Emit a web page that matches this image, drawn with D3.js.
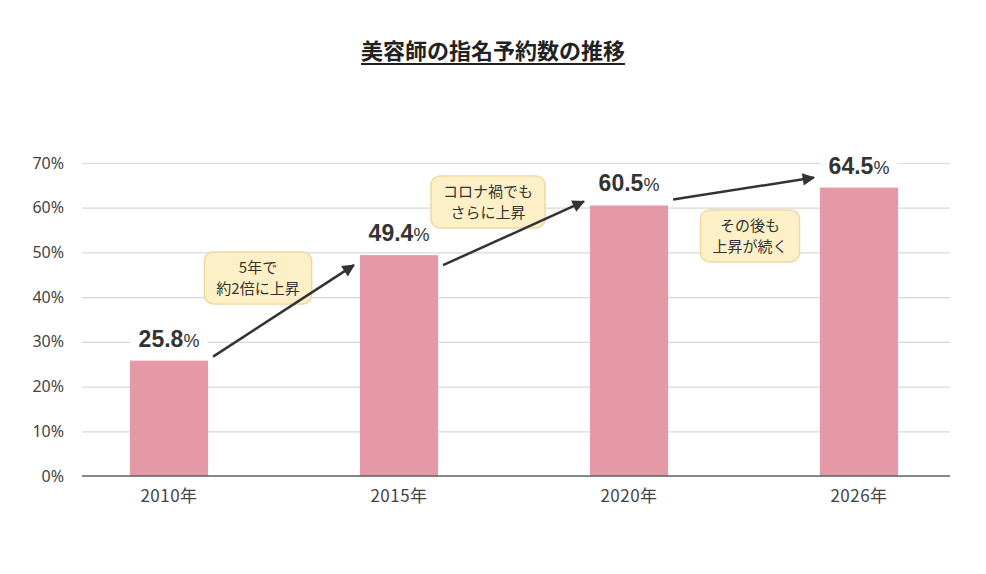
<!DOCTYPE html>
<html>
<head>
<meta charset="utf-8">
<script src="https://cdn.jsdelivr.net/npm/d3@7"></script>
<style>
  html, body { margin: 0; padding: 0; background: #fff; }
  svg text { font-family: "Noto Sans CJK JP", "Noto Sans", sans-serif; }
</style>
</head>
<body>
<svg id="chart" width="986" height="574"></svg>
<script>
const title = "美容師の指名予約数の推移";
const years = ["2010年", "2015年", "2020年", "2026年"];
const rates = [25.8, 49.4, 60.5, 64.5];
const yTicks = [0, 10, 20, 30, 40, 50, 60, 70];
const notes = [
  ["5年で", "約2倍に上昇"],
  ["コロナ禍でも", "さらに上昇"],
  ["その後も", "上昇が続く"]
];

const svg = d3.select("#chart");
const plotLeft = 82, plotRight = 950, plotTop = 163, plotBottom = 476;

const x = d3.scaleBand()
  .domain(years)
  .range([54, 974])
  .paddingInner(0.66)
  .paddingOuter(0.33);

const y = d3.scaleLinear()
  .domain([0, 70])
  .range([plotBottom, plotTop]);

// title
const t = svg.append("text")
  .attr("x", 493)
  .attr("y", 59)
  .attr("text-anchor", "middle")
  .style("font-size", "22px")
  .style("font-weight", "700")
  .style("fill", "#222")
  .text(title);
const tw = t.node().getComputedTextLength();
svg.append("line")
  .attr("x1", 493 - tw / 2).attr("x2", 493 + tw / 2)
  .attr("y1", 64).attr("y2", 64)
  .style("stroke", "#222")
  .style("stroke-width", 2);

// grid + y labels
const yAxis = svg.append("g")
  .attr("transform", `translate(${plotLeft},0)`)
  .call(d3.axisLeft(y)
    .tickValues(yTicks)
    .tickSize(-(plotRight - plotLeft))
    .tickPadding(18)
    .tickFormat(d => d + "%"));

yAxis.select(".domain").remove();
yAxis.selectAll(".tick line")
  .style("stroke", "#d8d8d8")
  .style("stroke-width", 1.2);
yAxis.selectAll(".tick text")
  .style("fill", "#444")
  .style("font-size", "16px")
  .style("font-family", "'Noto Sans', sans-serif");

// bars
svg.append("g")
  .selectAll("rect")
  .data(rates)
  .enter()
  .append("rect")
  .attr("x", (d, i) => x(years[i]))
  .attr("y", d => y(d))
  .attr("width", x.bandwidth())
  .attr("height", d => y(0) - y(d))
  .style("fill", "#e598a5");

// baseline
svg.append("line")
  .attr("x1", plotLeft).attr("x2", plotRight)
  .attr("y1", y(0)).attr("y2", y(0))
  .style("stroke", "#666")
  .style("stroke-width", 1.5);

// x labels
const xAxis = svg.append("g")
  .attr("transform", `translate(0,${y(0)})`)
  .call(d3.axisBottom(x).tickSize(0).tickPadding(14));
xAxis.select(".domain").remove();
xAxis.selectAll(".tick text")
  .style("fill", "#444")
  .style("font-size", "17px")
  .style("letter-spacing", "0.5px");

// value labels with white backing
const labels = svg.append("g")
  .selectAll("g")
  .data(rates)
  .enter()
  .append("g")
  .attr("transform", (d, i) =>
    `translate(${x(years[i]) + x.bandwidth() / 2},${y(d) - 14})`);

const labelText = labels.append("text")
  .attr("text-anchor", "middle")
  .style("font-family", "'Liberation Sans', Arial, sans-serif")
  .style("fill", "#333");
labelText.append("tspan")
  .style("font-size", "23px")
  .style("font-weight", "700")
  .text(d => d.toFixed(1));
labelText.append("tspan")
  .style("font-size", "18px")
  .style("font-weight", "400")
  .text("%");

labels.each(function(){
  const g = d3.select(this);
  const b = g.select("text").node().getBBox();
  g.insert("rect", "text")
    .attr("x", b.x - 8)
    .attr("y", b.y)
    .attr("width", b.width + 16)
    .attr("height", b.height)
    .style("fill", "#fff");
});

// callouts
const noteLayout = [
  { dx: -26, v: 44.3 },
  { dx: -26, v: 61.3 },
  { dx: 6, v: 53.7 }
];

const boxes = svg.append("g")
  .selectAll("g")
  .data(notes)
  .enter()
  .append("g")
  .attr("transform", (d, i) => {
    const mid = (x(years[i]) + x(years[i + 1]) + x.bandwidth()) / 2;
    return `translate(${mid + noteLayout[i].dx},${y(noteLayout[i].v)})`;
  });

boxes.each(function(lines){
  const g = d3.select(this);
  const txt = g.append("text")
    .attr("text-anchor", "middle")
    .style("font-size", "15px")
    .style("fill", "#333");
  lines.forEach((line, j) => {
    txt.append("tspan")
      .attr("x", 0)
      .attr("y", j === 0 ? -5 : 16)
      .text(line);
  });
  const b = txt.node().getBBox();
  g.insert("rect", "text")
    .attr("x", b.x - 12)
    .attr("y", -26)
    .attr("width", b.width + 24)
    .attr("height", 52)
    .attr("rx", 9)
    .style("fill", "#fdf0c6")
    .style("stroke", "#eed9a2")
    .style("stroke-width", 1.5);
});

// arrows
svg.append("defs").append("marker")
  .attr("id", "head")
  .attr("viewBox", "0 0 10 10")
  .attr("refX", 9)
  .attr("refY", 5)
  .attr("markerWidth", 5.5)
  .attr("markerHeight", 5)
  .attr("markerUnits", "strokeWidth")
  .attr("orient", "auto")
  .append("path")
  .attr("d", "M0,0 L10,5 L0,10 Z")
  .style("fill", "#333");

const arrowOffsets = [[-4, 10], [10, -4], [-6, -10]];

svg.append("g")
  .selectAll("line")
  .data(arrowOffsets)
  .enter()
  .append("line")
  .attr("x1", (d, i) => x(years[i]) + x.bandwidth() + 5)
  .attr("y1", (d, i) => y(rates[i]) + d[0])
  .attr("x2", (d, i) => x(years[i + 1]) - 6)
  .attr("y2", (d, i) => y(rates[i + 1]) + d[1])
  .style("stroke", "#333")
  .style("stroke-width", 2.5)
  .attr("marker-end", "url(#head)");
</script>
</body>
</html>
